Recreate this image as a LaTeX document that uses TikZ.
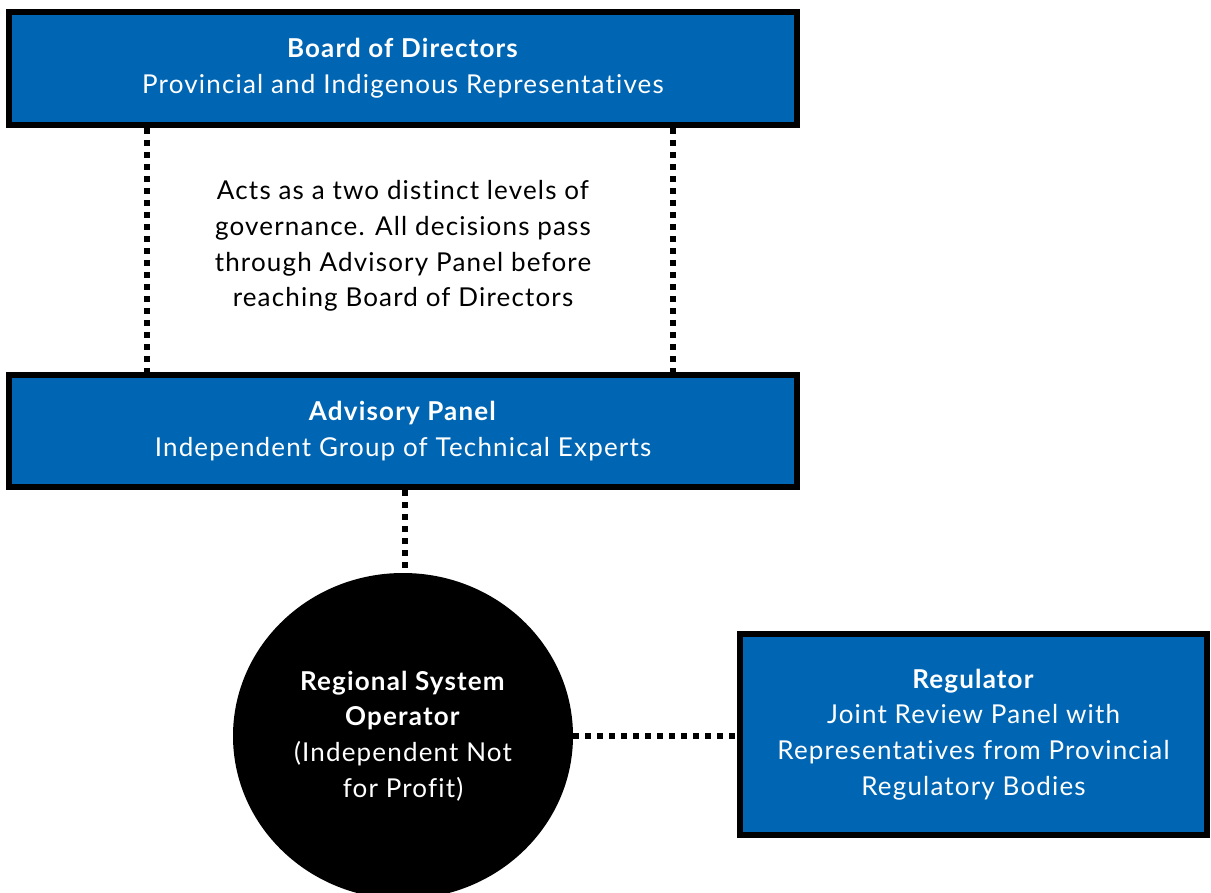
\documentclass[tikz,border=0pt]{standalone}
\usepackage{fontspec}
\setmainfont{Lato}[LetterSpace=4.5, Ligatures={NoCommon}]
\usetikzlibrary{shapes.geometric,backgrounds}
\definecolor{boxblue}{RGB}{0,102,179}
\begin{document}
\begin{tikzpicture}[x=0.75pt,y=-0.75pt,
  txt/.style={align=center, font=\fontsize{19.5}{26.8}\selectfont, inner sep=0pt},
  bluebox/.style={txt, draw=black, line width=4.5pt, fill=boxblue, text=white},
  operator/.style={txt, ellipse, fill=black, text=white, minimum width=255pt, minimum height=244.5pt},
  link/.style={line width=4.5pt, dash pattern=on 4.5pt off 4.5pt}]
\useasboundingbox (0,0) rectangle (1211,893);

% governance boxes
\node[bluebox, minimum width=591pt, minimum height=84.75pt] (board) at (403,68.5)
  {\textbf{Board of Directors}\\Provincial and Indigenous Representatives};
\node[bluebox, minimum width=591pt, minimum height=84pt] (adv) at (403,431)
  {\textbf{Advisory Panel}\\Independent Group of Technical Experts};
\node[txt] (note) at (403,246)
  {Acts as a two distinct levels of\\governance. All decisions pass\\through Advisory Panel before\\reaching Board of Directors};

% operator and regulator
\node[operator] (rso) at (403,736)
  {\textbf{Regional System}\\\textbf{Operator}\\(Independent Not\\for Profit)};
\node[bluebox, minimum width=350.25pt, minimum height=150.75pt] (reg) at (973.5,734.5)
  {\textbf{Regulator}\\Joint Review Panel with\\Representatives from Provincial\\Regulatory Bodies};

% dotted connectors
\coordinate (left) at (147,0);
\coordinate (right) at (673,0);
\coordinate (mid) at (405,0);
\begin{scope}[on background layer]
  \draw[link] (board.south -| left) -- (adv.north -| left);
  \draw[link] (board.south -| right) -- (adv.north -| right);
  \draw[link] (adv.south -| mid) -- (rso.north -| mid);
  \draw[link] (rso.east) -- (reg.west |- rso.east);
\end{scope}
\end{tikzpicture}
\end{document}
